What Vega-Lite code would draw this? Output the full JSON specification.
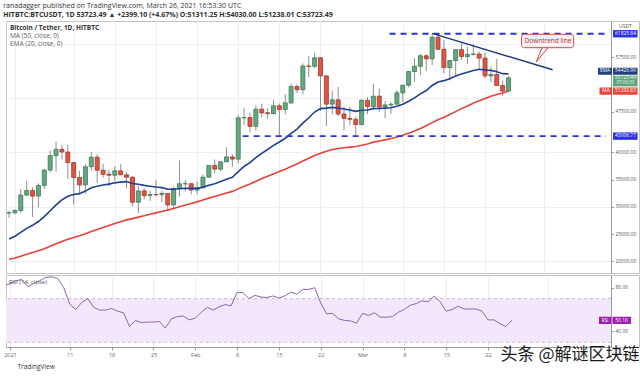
{
  "$schema": "https://vega.github.io/schema/vega-lite/v6.json",
  "background": "white",
  "padding": {"left": 3, "top": 1, "right": 4, "bottom": 0},
  "title": {
    "text": "ranadagger published on TradingView.com, March 26, 2021 16:53:30 UTC",
    "subtitle": "HITBTC:BTCUSDT, 1D  53723.49 ▲ +2399.10 (+4.67%)  O:51311.25 H:54030.00 L:51238.01 C:53723.49",
    "anchor": "start", "fontSize": 7, "fontWeight": "normal", "color": "#333",
    "subtitleFontSize": 7, "subtitleColor": "#2f2f2f", "subtitleFontWeight": "bold", "subtitlePadding": 2, "offset": 3
  },
  "datasets": {
    "ohlc": [
      {"d":"2020-12-31","o":28875,"h":29300,"l":28000,"c":28923,"ema":24100,"ma":20363,"rsi":82.4},
      {"d":"2021-01-01","o":28923,"h":29600,"l":28624,"c":29332,"ema":24598,"ma":20623,"rsi":83.5},
      {"d":"2021-01-02","o":29332,"h":33300,"l":28946,"c":32178,"ema":25320,"ma":20940,"rsi":86.5},
      {"d":"2021-01-03","o":32176,"h":34778,"l":32000,"c":33000,"ema":26051,"ma":21279,"rsi":87.5},
      {"d":"2021-01-04","o":33000,"h":33600,"l":28130,"c":31988,"ema":26616,"ma":21600,"rsi":81},
      {"d":"2021-01-05","o":31990,"h":34360,"l":29900,"c":33950,"ema":27314,"ma":21944,"rsi":84},
      {"d":"2021-01-06","o":33950,"h":36939,"l":33288,"c":36769,"ema":28214,"ma":22326,"rsi":86.5},
      {"d":"2021-01-07","o":36769,"h":40365,"l":36300,"c":39432,"ema":29282,"ma":22759,"rsi":89.5},
      {"d":"2021-01-08","o":39433,"h":41950,"l":36500,"c":40582,"ema":30358,"ma":23214,"rsi":90},
      {"d":"2021-01-09","o":40586,"h":41380,"l":38720,"c":40088,"ema":31284,"ma":23642,"rsi":88.5},
      {"d":"2021-01-10","o":40088,"h":41350,"l":35111,"c":38150,"ema":31938,"ma":24031,"rsi":80},
      {"d":"2021-01-11","o":38150,"h":38264,"l":30420,"c":35404,"ema":32268,"ma":24371,"rsi":65},
      {"d":"2021-01-12","o":35410,"h":36628,"l":32531,"c":34051,"ema":32438,"ma":24684,"rsi":60},
      {"d":"2021-01-13","o":34050,"h":37850,"l":32380,"c":37371,"ema":32908,"ma":25049,"rsi":66.5},
      {"d":"2021-01-14","o":37372,"h":40100,"l":36701,"c":39145,"ema":33502,"ma":25457,"rsi":70},
      {"d":"2021-01-15","o":39141,"h":39700,"l":34408,"c":36742,"ema":33810,"ma":25849,"rsi":62},
      {"d":"2021-01-16","o":36733,"h":37950,"l":35357,"c":35994,"ema":34018,"ma":26226,"rsi":59.5},
      {"d":"2021-01-17","o":35995,"h":36852,"l":33850,"c":35828,"ema":34190,"ma":26588,"rsi":59.5},
      {"d":"2021-01-18","o":35824,"h":37469,"l":34800,"c":36631,"ema":34422,"ma":26957,"rsi":61},
      {"d":"2021-01-19","o":36622,"h":37850,"l":35844,"c":35891,"ema":34562,"ma":27281,"rsi":58.5},
      {"d":"2021-01-20","o":35901,"h":36415,"l":33400,"c":35468,"ema":34648,"ma":27614,"rsi":57},
      {"d":"2021-01-21","o":35468,"h":35600,"l":30071,"c":30850,"ema":34286,"ma":27847,"rsi":44.5},
      {"d":"2021-01-22","o":30852,"h":33826,"l":28850,"c":32945,"ema":34158,"ma":28117,"rsi":50},
      {"d":"2021-01-23","o":32950,"h":33456,"l":31390,"c":32078,"ema":33960,"ma":28384,"rsi":48},
      {"d":"2021-01-24","o":32078,"h":32944,"l":31106,"c":32259,"ema":33798,"ma":28647,"rsi":48.5},
      {"d":"2021-01-25","o":32259,"h":34886,"l":31914,"c":32254,"ema":33651,"ma":28904,"rsi":48.5},
      {"d":"2021-01-26","o":32251,"h":32921,"l":30837,"c":32467,"ema":33538,"ma":29170,"rsi":49},
      {"d":"2021-01-27","o":32465,"h":32557,"l":29241,"c":30366,"ema":33236,"ma":29411,"rsi":43},
      {"d":"2021-01-28","o":30362,"h":33783,"l":29842,"c":33364,"ema":33248,"ma":29708,"rsi":51.5},
      {"d":"2021-01-29","o":33368,"h":38531,"l":31915,"c":34252,"ema":33344,"ma":30028,"rsi":53.5},
      {"d":"2021-01-30","o":34246,"h":34933,"l":32825,"c":34262,"ema":33431,"ma":30352,"rsi":54},
      {"d":"2021-01-31","o":34262,"h":34342,"l":32300,"c":33092,"ema":33399,"ma":30638,"rsi":50.5},
      {"d":"2021-02-01","o":33092,"h":34717,"l":32296,"c":33526,"ema":33411,"ma":30925,"rsi":52},
      {"d":"2021-02-02","o":33518,"h":35984,"l":33418,"c":35466,"ema":33607,"ma":31249,"rsi":57.5},
      {"d":"2021-02-03","o":35466,"h":37662,"l":35362,"c":37618,"ema":33989,"ma":31613,"rsi":62},
      {"d":"2021-02-04","o":37619,"h":38708,"l":36161,"c":36937,"ema":34270,"ma":31925,"rsi":59.5},
      {"d":"2021-02-05","o":36936,"h":38310,"l":36570,"c":38290,"ema":34653,"ma":32235,"rsi":62.5},
      {"d":"2021-02-06","o":38290,"h":40955,"l":38215,"c":39186,"ema":35085,"ma":32556,"rsi":64.5},
      {"d":"2021-02-07","o":39181,"h":39700,"l":37351,"c":38795,"ema":35438,"ma":32854,"rsi":63.5},
      {"d":"2021-02-08","o":38795,"h":46794,"l":37988,"c":46374,"ema":36479,"ma":33312,"rsi":75.5},
      {"d":"2021-02-09","o":46374,"h":48200,"l":45020,"c":46420,"ema":37425,"ma":33786,"rsi":75.5},
      {"d":"2021-02-10","o":46420,"h":47310,"l":43727,"c":44807,"ema":38128,"ma":34205,"rsi":70},
      {"d":"2021-02-11","o":44807,"h":48678,"l":43994,"c":47969,"ema":39065,"ma":34700,"rsi":73},
      {"d":"2021-02-12","o":47969,"h":48985,"l":46400,"c":47287,"ema":39848,"ma":35171,"rsi":71.5},
      {"d":"2021-02-13","o":47298,"h":48150,"l":46202,"c":47153,"ema":40543,"ma":35620,"rsi":71},
      {"d":"2021-02-14","o":47156,"h":49707,"l":47014,"c":48577,"ema":41308,"ma":36063,"rsi":72.5},
      {"d":"2021-02-15","o":48580,"h":49010,"l":42988,"c":47911,"ema":41937,"ma":36496,"rsi":70.5},
      {"d":"2021-02-16","o":47911,"h":50689,"l":47003,"c":49133,"ema":42622,"ma":36937,"rsi":72.5},
      {"d":"2021-02-17","o":49133,"h":52618,"l":48947,"c":52119,"ema":43526,"ma":37432,"rsi":76},
      {"d":"2021-02-18","o":52118,"h":52530,"l":50901,"c":51553,"ema":44290,"ma":37886,"rsi":74},
      {"d":"2021-02-19","o":51553,"h":56368,"l":50710,"c":55906,"ema":45396,"ma":38424,"rsi":78.5},
      {"d":"2021-02-20","o":55906,"h":57700,"l":53863,"c":55841,"ema":46390,"ma":38954,"rsi":78.5},
      {"d":"2021-02-21","o":55841,"h":58352,"l":55477,"c":57408,"ema":47439,"ma":39459,"rsi":80},
      {"d":"2021-02-22","o":57412,"h":57508,"l":47622,"c":54087,"ema":48072,"ma":39881,"rsi":66},
      {"d":"2021-02-23","o":54087,"h":54183,"l":44892,"c":48891,"ema":48150,"ma":40219,"rsi":56},
      {"d":"2021-02-24","o":48891,"h":51374,"l":47000,"c":49677,"ema":48295,"ma":40533,"rsi":56.5},
      {"d":"2021-02-25","o":49677,"h":52041,"l":46674,"c":47073,"ema":48179,"ma":40739,"rsi":51.5},
      {"d":"2021-02-26","o":47074,"h":48424,"l":44106,"c":46276,"ema":47998,"ma":40876,"rsi":50},
      {"d":"2021-02-27","o":46277,"h":48394,"l":45000,"c":46106,"ema":47818,"ma":40987,"rsi":49.5},
      {"d":"2021-02-28","o":46104,"h":46638,"l":43000,"c":45135,"ema":47563,"ma":41088,"rsi":47.5},
      {"d":"2021-03-01","o":45134,"h":49790,"l":45115,"c":49587,"ema":47756,"ma":41316,"rsi":56.5},
      {"d":"2021-03-02","o":49595,"h":50200,"l":47047,"c":48440,"ema":47821,"ma":41577,"rsi":54.5},
      {"d":"2021-03-03","o":48436,"h":52640,"l":48100,"c":50349,"ema":48062,"ma":41903,"rsi":57},
      {"d":"2021-03-04","o":50349,"h":51773,"l":47500,"c":48374,"ema":48092,"ma":42123,"rsi":53},
      {"d":"2021-03-05","o":48374,"h":49448,"l":46300,"c":48751,"ema":48155,"ma":42315,"rsi":53},
      {"d":"2021-03-06","o":48747,"h":49200,"l":47070,"c":48882,"ema":48224,"ma":42558,"rsi":53.5},
      {"d":"2021-03-07","o":48882,"h":51450,"l":48882,"c":50971,"ema":48486,"ma":42858,"rsi":57.5},
      {"d":"2021-03-08","o":50959,"h":52402,"l":49274,"c":52375,"ema":48856,"ma":43189,"rsi":60},
      {"d":"2021-03-09","o":52375,"h":54895,"l":52000,"c":54884,"ema":49430,"ma":43554,"rsi":64},
      {"d":"2021-03-10","o":54874,"h":57387,"l":53005,"c":55851,"ema":50041,"ma":43953,"rsi":65.5},
      {"d":"2021-03-11","o":55851,"h":58150,"l":54272,"c":57773,"ema":50777,"ma":44399,"rsi":68},
      {"d":"2021-03-12","o":57773,"h":58081,"l":54962,"c":57221,"ema":51390,"ma":44926,"rsi":67},
      {"d":"2021-03-13","o":57222,"h":61825.84,"l":56078,"c":61188,"ema":52323,"ma":45491,"rsi":72.5},
      {"d":"2021-03-14","o":61188,"h":61683,"l":58965,"c":58968,"ema":52956,"ma":46029,"rsi":67},
      {"d":"2021-03-15","o":58976,"h":60633,"l":54600,"c":55605,"ema":53208,"ma":46496,"rsi":58.5},
      {"d":"2021-03-16","o":55605,"h":56938,"l":53271,"c":56900,"ema":53559,"ma":46989,"rsi":60},
      {"d":"2021-03-17","o":56901,"h":58999,"l":54123,"c":58912,"ema":54069,"ma":47518,"rsi":63},
      {"d":"2021-03-18","o":58912,"h":60100,"l":57023,"c":57648,"ema":54410,"ma":48063,"rsi":60.5},
      {"d":"2021-03-19","o":57641,"h":59468,"l":56270,"c":58030,"ema":54755,"ma":48557,"rsi":60.5},
      {"d":"2021-03-20","o":58030,"h":59880,"l":57820,"c":58102,"ema":55074,"ma":49034,"rsi":60.5},
      {"d":"2021-03-21","o":58100,"h":58589,"l":55450,"c":57351,"ema":55291,"ma":49496,"rsi":58.5},
      {"d":"2021-03-22","o":57351,"h":58430,"l":53650,"c":54083,"ema":55176,"ma":49915,"rsi":50.5},
      {"d":"2021-03-23","o":54083,"h":55830,"l":53000,"c":54341,"ema":55096,"ma":50332,"rsi":50.5},
      {"d":"2021-03-24","o":54342,"h":57200,"l":52819,"c":52303,"ema":54830,"ma":50668,"rsi":47},
      {"d":"2021-03-25","o":52303,"h":53230,"l":50427,"c":51293,"ema":54493,"ma":50942,"rsi":44.5},
      {"d":"2021-03-26","o":51311.25,"h":54030,"l":51238.01,"c":53723.49,"ema":54426.96,"ma":51292.83,"rsi":50.1}
    ],
    "levels": [
      {"price": 61825.84, "start": "2021-03-05T18:00:00Z", "end": "2021-04-11T14:00:00Z"},
      {"price": 43006.77, "start": "2021-02-08T18:00:00Z", "end": "2021-04-11T14:00:00Z"}
    ],
    "trend": [
      {"d": "2021-03-13T00:00:00Z", "p": 61900},
      {"d": "2021-04-02T12:00:00Z", "p": 55200}
    ],
    "callout": [
      {"x1": "2021-03-28T05:00:00Z", "x2": "2021-04-06T02:00:00Z", "y1": 61728, "y2": 59265, "xm": "2021-04-01T17:00:00Z", "ym": 60500, "label": "Downtrend line"}
    ],
    "tail": [
      {"k": 1, "d": "2021-03-31T17:00:00Z", "top": 59265, "bot": 58051},
      {"k": 2, "d": "2021-03-30T17:00:00Z", "top": 56636, "bot": 56636},
      {"k": 3, "d": "2021-04-01T17:00:00Z", "top": 59265, "bot": 59265}
    ],
    "tags": [
      {"name": "R", "price": 61825.84, "label": "61825.84"},
      {"name": "EMA", "price": 54426.96, "label": "54426.96", "tag": "EMA"},
      {"name": "Close", "price": 53723.49, "label": "53723.49", "sub": "07:06:30"},
      {"name": "MA", "price": 51292.83, "label": "51292.83", "tag": "MA"},
      {"name": "S", "price": 43006.77, "label": "43006.77"}
    ],
    "rsitag": [
      {"name": "RSI", "value": 50.1, "label": "50.10", "tag": "RSI"}
    ]
  },
  "spacing": 0,
  "vconcat": [
    {
      "spacing": 0,
      "bounds": "flush",
      "hconcat": [
        {
          "width": 605, "height": 252,
          "title": {"text": "Bitcoin / Tether, 1D, HITBTC", "subtitle": ["MA (50, close, 0)", "EMA (20, close, 0)"], "anchor": "start", "frame": "group", "offset": -26, "dx": 4, "fontSize": 6.5, "fontWeight": "bold", "color": "#333", "subtitleFontSize": 6.5, "subtitleColor": "#666", "subtitlePadding": 1.5, "subtitleLineHeight": 8},
          "layer": [
            {
              "data": {"name": "ohlc"},
              "mark": {"type": "rule", "color": "#8f8f8f", "strokeWidth": 1, "clip": true},
              "encoding": {
                "x": {"field": "d", "type": "temporal", "scale": {"type": "utc", "domain": [{"year": 2020, "month": 12, "date": 31, "hours": 8, "utc": true}, {"year": 2021, "month": 4, "date": 11, "hours": 14, "utc": true}]},
                  "axis": {"grid": true, "gridColor": "#eceef2", "labels": false, "ticks": false, "domain": false, "title": null,
                    "values": [{"year":2021,"month":1,"date":1,"utc":true},{"year":2021,"month":1,"date":11,"utc":true},{"year":2021,"month":1,"date":18,"utc":true},{"year":2021,"month":1,"date":25,"utc":true},{"year":2021,"month":2,"date":1,"utc":true},{"year":2021,"month":2,"date":8,"utc":true},{"year":2021,"month":2,"date":15,"utc":true},{"year":2021,"month":2,"date":22,"utc":true},{"year":2021,"month":3,"date":1,"utc":true},{"year":2021,"month":3,"date":8,"utc":true},{"year":2021,"month":3,"date":15,"utc":true},{"year":2021,"month":3,"date":22,"utc":true},{"year":2021,"month":4,"date":1,"utc":true}]}},
                "y": {"field": "l", "type": "quantitative", "scale": {"domain": [17849, 64172], "zero": false, "nice": false},
                  "axis": {"orient": "right", "grid": true, "gridColor": "#eceef2", "labels": false, "ticks": false, "domain": false, "title": null,
                    "values": [20000,22500,25000,27500,30000,32500,35000,37500,40000,42500,45000,47500,50000,52500,55000,57500,60000,62500]}},
                "y2": {"field": "h"}
              }
            },
            {
              "data": {"name": "ohlc"},
              "mark": {"type": "bar", "width": 4, "strokeWidth": 0.8, "clip": true},
              "encoding": {
                "x": {"field": "d", "type": "temporal"},
                "y": {"field": "o", "type": "quantitative"},
                "y2": {"field": "c"},
                "fill": {"condition": {"test": "datum.c >= datum.o", "value": "#65a880"}, "value": "#dd5544"},
                "stroke": {"condition": {"test": "datum.c >= datum.o", "value": "#3a7a55"}, "value": "#a5342a"}
              }
            },
            {
              "data": {"name": "ohlc"},
              "mark": {"type": "line", "color": "#e8413a", "strokeWidth": 1.6, "clip": true},
              "encoding": {"x": {"field": "d", "type": "temporal"}, "y": {"field": "ma", "type": "quantitative"}}
            },
            {
              "data": {"name": "ohlc"},
              "mark": {"type": "line", "color": "#1f3f8f", "strokeWidth": 1.6, "clip": true},
              "encoding": {"x": {"field": "d", "type": "temporal"}, "y": {"field": "ema", "type": "quantitative"}}
            },
            {
              "data": {"name": "levels"},
              "mark": {"type": "rule", "color": "#2b30e0", "strokeWidth": 1.8, "strokeDash": [6, 5]},
              "encoding": {"x": {"field": "start", "type": "temporal"}, "x2": {"field": "end"}, "y": {"field": "price", "type": "quantitative"}}
            },
            {
              "data": {"name": "trend"},
              "mark": {"type": "line", "color": "#22397a", "strokeWidth": 1.5},
              "encoding": {"x": {"field": "d", "type": "temporal"}, "y": {"field": "p", "type": "quantitative"}}
            },
            {
              "data": {"name": "tail"},
              "mark": {"type": "area", "color": "#fdeef0", "opacity": 1},
              "encoding": {"x": {"field": "d", "type": "temporal"}, "y": {"field": "top", "type": "quantitative"}, "y2": {"field": "bot"}}
            },
            {
              "data": {"name": "tail"},
              "mark": {"type": "line", "color": "#c94a52", "strokeWidth": 1},
              "encoding": {"x": {"field": "d", "type": "temporal"}, "y": {"field": "top", "type": "quantitative"}, "order": {"field": "k"}}
            },
            {
              "data": {"name": "callout"},
              "mark": {"type": "rect", "fill": "#fdeef0", "stroke": "#c94a52", "strokeWidth": 1, "cornerRadius": 3},
              "encoding": {"x": {"field": "x1", "type": "temporal"}, "x2": {"field": "x2"}, "y": {"field": "y1", "type": "quantitative"}, "y2": {"field": "y2"}}
            },
            {
              "data": {"name": "callout"},
              "mark": {"type": "text", "color": "#a83240", "fontSize": 6.5, "align": "center", "baseline": "middle"},
              "encoding": {"x": {"field": "xm", "type": "temporal"}, "y": {"field": "ym", "type": "quantitative"}, "text": {"field": "label"}}
            }
          ]
        },
        {
          "width": 28, "height": 252,
          "data": {"name": "tags"},
          "layer": [
            {
              "mark": {"type": "point", "filled": true, "opacity": 1, "strokeWidth": 0, "size": 529},
              "encoding": {
                "y": {"field": "price", "type": "quantitative", "scale": {"domain": [17849, 64172], "zero": false, "nice": false},
                  "axis": {"orient": "right", "offset": -28, "title": "USDT", "titleAngle": 0, "titleX": 14, "titleY": 4, "titleAlign": "center", "titleBaseline": "middle", "titleFontSize": 5, "titleFontWeight": "normal", "titleColor": "#555",
                    "values": [20000,22500,25000,27500,30000,32500,35000,37500,40000,45000,47500,50000,57500,60000],
                    "format": ".2f", "labelFontSize": 4.9, "labelColor": "#555", "labelPadding": 1.5, "tickSize": 2.5, "tickColor": "#999", "domainColor": "#999", "grid": false}},
                "shape": {"field": "name", "type": "nominal", "legend": null, "scale": {"domain": ["R", "EMA", "Close", "MA", "S"], "range": [
                  "M-1.04,-0.32L1.09,-0.32L1.09,0.32L-1.04,0.32Z",
                  "M-2.35,-0.55L-1.13,-0.55L-1.13,0.07L-2.35,0.07Z M-1.04,-0.55L1.09,-0.55L1.09,0.07L-1.04,0.07Z",
                  "M-1.04,-0.2L1.09,-0.2L1.09,0.74L-1.04,0.74Z",
                  "M-2.22,-0.32L-1.13,-0.32L-1.13,0.32L-2.22,0.32Z M-1.04,-0.32L1.09,-0.32L1.09,0.32L-1.04,0.32Z",
                  "M-1.04,-0.32L1.09,-0.32L1.09,0.32L-1.04,0.32Z"]}},
                "fill": {"field": "name", "type": "nominal", "legend": null, "scale": {"domain": ["R", "EMA", "Close", "MA", "S"], "range": ["#2b30e0", "#23407e", "#5aa57c", "#e8463d", "#2b30e0"]}}
              }
            },
            {
              "transform": [{"filter": "datum.name != 'EMA'"}],
              "mark": {"type": "text", "color": "white", "fontSize": 4.9, "align": "center", "baseline": "middle", "dx": 0.5, "dy": 0.3},
              "encoding": {"y": {"field": "price", "type": "quantitative"}, "text": {"field": "label"}}
            },
            {
              "transform": [{"filter": "datum.name == 'EMA'"}],
              "mark": {"type": "text", "color": "white", "fontSize": 4.9, "align": "center", "baseline": "middle", "dx": 0.5, "dy": -2.7},
              "encoding": {"y": {"field": "price", "type": "quantitative"}, "text": {"field": "label"}}
            },
            {
              "transform": [{"filter": "datum.name == 'MA'"}],
              "mark": {"type": "text", "color": "white", "fontSize": 4.8, "align": "center", "baseline": "middle", "dx": -19},
              "encoding": {"y": {"field": "price", "type": "quantitative"}, "text": {"field": "tag"}}
            },
            {
              "transform": [{"filter": "datum.name == 'EMA'"}],
              "mark": {"type": "text", "color": "white", "fontSize": 4.8, "align": "center", "baseline": "middle", "dx": -20, "dy": -2.7},
              "encoding": {"y": {"field": "price", "type": "quantitative"}, "text": {"field": "tag"}}
            },
            {
              "transform": [{"filter": "datum.name == 'Close'"}],
              "mark": {"type": "text", "color": "#e8f5ec", "fontSize": 4.6, "align": "center", "baseline": "middle", "dx": 0.5, "dy": 5.6},
              "encoding": {"y": {"field": "price", "type": "quantitative"}, "text": {"field": "sub"}}
            }
          ]
        }
      ]
    },
    {
      "spacing": 0,
      "bounds": "flush",
      "title": {"text": "头条 @解谜区块链", "orient": "bottom", "anchor": "end", "font": "Noto Sans CJK SC", "fontSize": 17, "fontWeight": "normal", "color": "#1a1a1a", "offset": -24},
      "hconcat": [
        {
          "width": 605, "height": 72,
          "title": {"text": "RSI (14, close)", "anchor": "start", "frame": "group", "offset": -10, "dx": 3, "fontSize": 6, "fontWeight": "normal", "color": "#555"},
          "layer": [
            {
              "data": {"values": [{}]},
              "mark": {"type": "rect", "fill": "#f3e8fb"},
              "encoding": {
                "y": {"datum": 70, "type": "quantitative", "scale": {"domain": [25.6, 91.7], "zero": false, "nice": false}, "axis": null},
                "y2": {"datum": 30}
              }
            },
            {
              "data": {"values": [{"lvl": 70}, {"lvl": 30}]},
              "mark": {"type": "rule", "color": "#c9b8d6", "strokeDash": [3, 3], "strokeWidth": 1},
              "encoding": {"y": {"field": "lvl", "type": "quantitative"}}
            },
            {
              "data": {"name": "ohlc"},
              "mark": {"type": "line", "color": "#8e63ad", "strokeWidth": 1, "clip": true},
              "encoding": {
                "x": {"field": "d", "type": "temporal", "scale": {"type": "utc", "domain": [{"year": 2020, "month": 12, "date": 31, "hours": 8, "utc": true}, {"year": 2021, "month": 4, "date": 11, "hours": 14, "utc": true}]},
                  "axis": {"grid": true, "gridColor": "#eceef2", "title": "TradingView", "titleAnchor": "start", "titleAlign": "left", "titleX": 11, "titleFontSize": 6.5, "titleFontWeight": "normal", "titleColor": "#333", "titlePadding": 6,
                    "labelFontSize": 5.5, "labelColor": "#666", "labelPadding": 2, "tickSize": 3, "tickColor": "#999", "domainColor": "#999",
                    "labelExpr": "utcmonth(datum.value) == 3 ? '' : (utcdate(datum.value) == 1 ? (utcmonth(datum.value) == 0 ? utcFormat(datum.value, '%Y') : utcFormat(datum.value, '%b')) : utcFormat(datum.value, '%-d'))",
                    "values": [{"year":2021,"month":1,"date":1,"utc":true},{"year":2021,"month":1,"date":11,"utc":true},{"year":2021,"month":1,"date":18,"utc":true},{"year":2021,"month":1,"date":25,"utc":true},{"year":2021,"month":2,"date":1,"utc":true},{"year":2021,"month":2,"date":8,"utc":true},{"year":2021,"month":2,"date":15,"utc":true},{"year":2021,"month":2,"date":22,"utc":true},{"year":2021,"month":3,"date":1,"utc":true},{"year":2021,"month":3,"date":8,"utc":true},{"year":2021,"month":3,"date":15,"utc":true},{"year":2021,"month":3,"date":22,"utc":true},{"year":2021,"month":4,"date":1,"utc":true}]}},
                "y": {"field": "rsi", "type": "quantitative"}
              }
            }
          ]
        },
        {
          "width": 28, "height": 72,
          "data": {"name": "rsitag"},
          "layer": [
            {
              "mark": {"type": "point", "filled": true, "opacity": 1, "strokeWidth": 0, "size": 529, "fill": "#9b1fb0", "shape": "M-2.26,-0.32L-1.2,-0.32L-1.2,0.32L-2.26,0.32Z M-1.09,-0.32L0.52,-0.32L0.52,0.32L-1.09,0.32Z"},
              "encoding": {
                "y": {"field": "value", "type": "quantitative", "scale": {"domain": [25.6, 91.7], "zero": false, "nice": false},
                  "axis": {"orient": "right", "offset": -28, "title": null, "values": [40, 60, 80], "format": ".2f", "labelFontSize": 4.9, "labelColor": "#555", "labelPadding": 1.5, "tickSize": 2.5, "tickColor": "#999", "domainColor": "#999", "grid": false}}
              }
            },
            {
              "mark": {"type": "text", "color": "white", "fontSize": 4.9, "align": "center", "baseline": "middle", "dx": -3.5, "dy": 0.3},
              "encoding": {"y": {"field": "value", "type": "quantitative"}, "text": {"field": "label"}}
            },
            {
              "mark": {"type": "text", "color": "white", "fontSize": 4.8, "align": "center", "baseline": "middle", "dx": -20, "dy": 0.3},
              "encoding": {"y": {"field": "value", "type": "quantitative"}, "text": {"field": "tag"}}
            }
          ]
        }
      ]
    }
  ],
  "config": {
    "font": "Open Sans",
    "view": {"stroke": "#c4c4c4", "strokeWidth": 1},
    "axis": {"minExtent": 0, "labelFont": "Open Sans", "titleFont": "Open Sans"},
    "title": {"font": "Open Sans", "subtitleFont": "Open Sans"}
  }
}
